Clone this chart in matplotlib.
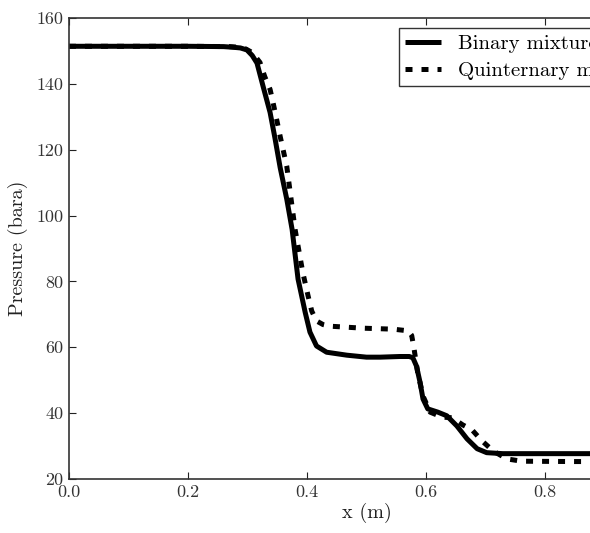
import matplotlib
matplotlib.use('Agg')
import matplotlib.pyplot as plt

# ── Fonts: Computer Modern look ───────────────────────────────────────────────
plt.rcParams['font.family'] = ['cmr10', 'DejaVu Serif']
plt.rcParams['axes.formatter.use_mathtext'] = True
plt.rcParams['mathtext.fontset'] = 'cm'

# ── Pressure profiles ─────────────────────────────────────────────────────────
x_binary = [0.0, 0.20, 0.26, 0.276, 0.288, 0.299, 0.308, 0.316, 0.326, 0.338,
            0.346, 0.355, 0.366, 0.375, 0.385, 0.397, 0.405, 0.416, 0.433,
            0.467, 0.50, 0.523, 0.556, 0.572, 0.578, 0.584, 0.590, 0.595,
            0.603, 0.620, 0.635, 0.652, 0.669, 0.686, 0.702, 0.729, 0.85, 1.0]
p_binary = [151.4, 151.4, 151.3, 151.1, 150.9, 150.3, 148.6, 146.3, 139.4, 131.3,
            123.7, 114.5, 105.0, 95.8, 80.7, 70.6, 64.6, 60.4, 58.5,
            57.6, 57.0, 57.0, 57.2, 57.2, 56.8, 54.3, 49.4, 44.3,
            41.3, 40.3, 39.2, 36.1, 32.2, 29.2, 28.0, 27.7, 27.7, 27.7]

x_quint = [0.0, 0.20, 0.27, 0.286, 0.297, 0.308, 0.321, 0.329, 0.338, 0.343,
           0.349, 0.355, 0.366, 0.380, 0.393, 0.402, 0.408, 0.416, 0.427,
           0.439, 0.494, 0.545, 0.570, 0.576, 0.580, 0.586, 0.595, 0.607,
           0.627, 0.644, 0.662, 0.677, 0.694, 0.713, 0.736, 0.761, 0.85, 1.0]
p_quint = [151.4, 151.4, 151.3, 151.1, 150.6, 149.5, 146.5, 142.2, 138.3, 134.3,
           129.2, 124.0, 115.0, 95.8, 82.7, 75.5, 71.0, 68.0, 66.9,
           66.4, 65.8, 65.5, 65.0, 63.6, 59.5, 52.4, 45.2, 40.3,
           38.8, 38.6, 36.4, 35.0, 31.6, 28.5, 26.1, 25.4, 25.3, 25.3]

x_ticks = [0.0, 0.2, 0.4, 0.6, 0.8, 1.0]
y_ticks = [20, 40, 60, 80, 100, 120, 140, 160]

# ── Figure ────────────────────────────────────────────────────────────────────
fig = plt.figure(figsize=(5.90, 5.33), dpi=100)
ax = fig.add_axes([0.1169, 0.1013, 1.0085, 0.8650])

ax.plot(x_binary, p_binary, color='black', linewidth=3.6,
        solid_capstyle='butt', solid_joinstyle='round', label='Binary mixture')
ax.plot(x_quint, p_quint, color='black', linewidth=3.6,
        dashes=(1.4, 1.8), dash_capstyle='butt', dash_joinstyle='round',
        label='Quinternary mixture')

ax.set_xlim(0.0, 1.0)
ax.set_ylim(20, 160)
ax.set_xticks(x_ticks)
ax.set_yticks(y_ticks)
ax.xaxis.set_major_formatter(matplotlib.ticker.FormatStrFormatter('%.1f'))
ax.yaxis.set_major_formatter(matplotlib.ticker.FormatStrFormatter('%d'))
ax.tick_params(direction='in', length=5, width=0.8, labelsize=13,
               top=True, right=True, pad=4, colors='#222222',
               labelcolor='#333333')
for s in ax.spines.values():
    s.set_color('#333333')
    s.set_linewidth(1.2)

ax.set_xlabel('x (m)', fontsize=14.5, color='#222222', labelpad=2)
ax.set_ylabel('Pressure (bara)', fontsize=14.5, color='#222222', labelpad=6)

leg = ax.legend(loc='upper left', bbox_to_anchor=(0.5546, 0.978),
                borderaxespad=0, fontsize=15, handlelength=1.7,
                handletextpad=0.85, labelspacing=0.4, borderpad=0.3,
                fancybox=False, framealpha=1.0)
leg.get_frame().set_edgecolor('#333333')
leg.get_frame().set_linewidth(1.0)

fig.savefig('out.png', dpi=100)
